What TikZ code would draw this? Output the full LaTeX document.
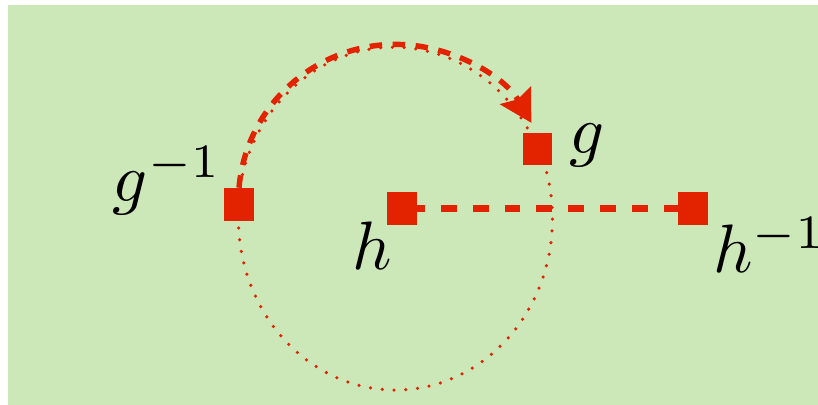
\RequirePackage{fix-cm}
\documentclass[tikz,border=0pt]{standalone}
\usepackage{amsmath}
\usetikzlibrary{arrows.meta}
\definecolor{grpgreen}{RGB}{204,231,184}
\definecolor{grpred}{RGB}{227,34,0}

\begin{document}
\begin{tikzpicture}[x=0.02cm, y=0.02cm,
  every node/.style={inner sep=0pt},
  tag/.style={font=\normalsize, scale=3.9},
  site/.style={fill=grpred, minimum width=17pt, minimum height=18.7pt},
  orbit/.style={draw=grpred, line width=2pt, line cap=round,
    dash pattern=on 0pt off 6.7pt},
  swap/.style={draw=grpred, line width=4.5pt,
    dash pattern=on 9.07pt off 9.07pt, dash phase=14.2pt},
  turn/.style={draw=grpred, line width=3.1pt,
    dash pattern=on 7.1pt off 6pt,
    -{Stealth[length=18pt, width=20pt, inset=2.5pt, fill=grpred]}}]
\useasboundingbox (0,0) rectangle (818,405);
\fill[grpgreen] (8,0) rectangle (818,400);

% the four elements
\node[site] (ginv) at (239,200.5) {};
\node[site] (g) at (537.5,256) {};
\node[site] (h) at (402,196.5) {};
\node[site] (hinv) at (693,196.5) {};

\node[tag, anchor=base east] (ginvlabel) at (223,203) {$g^{-1}$};
\node[tag, anchor=base west] (glabel) at (568,251) {$g$};
\node[tag, anchor=base west] (hlabel) at (351,135) {$h$};
\node[tag, anchor=base west] (hinvlabel) at (712,132) {$h^{-1}$};

% orbit of g
\draw[orbit] (ginv.center) arc[start angle=175.3, end angle=384, x radius=157, y radius=171.5];
\draw[orbit] (g.center) arc[start angle=24, end angle=175.3, x radius=157, y radius=171.5];

% rotation and swap
\draw[turn] (ginv.north) arc[start angle=175, end angle=30, radius=157];
\draw[swap] (h.center) -- (hinv.center);
\end{tikzpicture}
\end{document}
